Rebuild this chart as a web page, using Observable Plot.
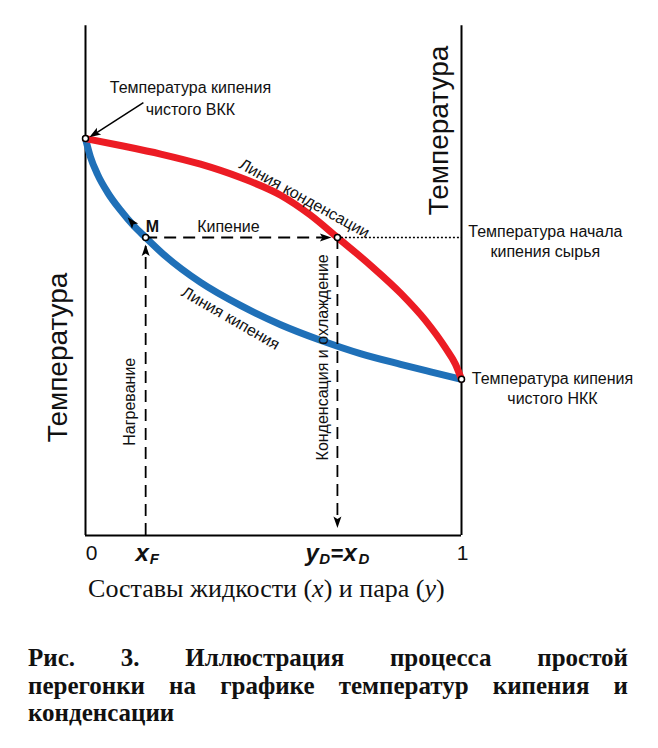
<!DOCTYPE html>
<html><head><meta charset="utf-8">
<script src="https://cdn.jsdelivr.net/npm/d3@7"></script>
<script src="https://cdn.jsdelivr.net/npm/@observablehq/plot@0.6"></script>
<style>
body{margin:0;background:#fff;}
#chart svg{display:block;}
.cap{margin:34px 0 0 28px;width:600px;font:bold 25px/27.5px "Liberation Serif","Times New Roman",serif;color:#111;}
.j{text-align:justify;text-align-last:justify;}
</style></head><body>
<div id="chart"></div>
<div class="cap">
<div class="j">Рис. 3. Иллюстрация процесса простой</div>
<div class="j">перегонки на графике температур кипения и</div>
<div>конденсации</div>
</div>
<script>
// Линия кипения (liquid): состав x -> температура (условные единицы)
const liquidX = [0, 0.013, 0.032, 0.059, 0.093, 0.128, 0.16, 0.213, 0.306, 0.412, 0.519, 0.625, 0.731, 0.838, 0.918, 1];
const liquidT = [74.2, 70.8, 67.5, 64.1, 60.8, 57.9, 55.7, 52.2, 47.3, 43.0, 39.4, 36.5, 34.0, 32.0, 30.6, 29.2];
// Линия конденсации (vapor)
const vaporX = [0, 0.093, 0.2, 0.306, 0.412, 0.519, 0.598, 0.67, 0.758, 0.838, 0.904, 0.957, 0.984, 1];
const vaporT = [74.2, 72.9, 71.3, 69.4, 66.9, 63.6, 59.9, 55.7, 50.5, 45.3, 40.2, 35.1, 32.0, 29.2];

const xF = 0.16, xD = 0.67, tFeed = 55.7, tTop = 95.3;
const keyX = [0, 1, xF, xD];
const keyT = [74.2, 29.2, 55.7, 55.7];

// arrowheads: x, T, rotation
const headX = [0.16, 0.634, 0.67, 0.125, 0.027];
const headT = [53.0, 55.7, 2.8, 58.4, 75.2];
const headR = [0, 90, 180, -40, -122];

const sans = "Liberation Sans, Arial, sans-serif";
const red = "#ec1c24", blue = "#1f70b8";

const arrowSymbol = {
  draw(ctx, size) {
    const r = Math.sqrt(size / Math.PI);
    ctx.moveTo(0, -r * 1.5);
    ctx.lineTo(r * 0.8, r * 0.8);
    ctx.lineTo(0, r * 0.3);
    ctx.lineTo(-r * 0.8, r * 0.8);
    ctx.closePath();
  }
};

const liquid = liquidX.map((x, i) => ({x, t: liquidT[i]}));
const vapor = vaporX.map((x, i) => ({x, t: vaporT[i]}));
const keys = keyX.map((x, i) => ({x, t: keyT[i]}));
const heads = headX.map((x, i) => ({x, t: headT[i], r: headR[i]}));

const L = (x, y, text, opts = {}) =>
  Plot.text([{x, y, text}], {x: "x", y: "y", text: "text", fontFamily: sans, fill: "#111", fontSize: 16, ...opts});

const chart = Plot.plot({
  width: 658, height: 610,
  marginLeft: 85, marginRight: 197, marginTop: 0, marginBottom: 75,
  x: {domain: [0, 1], axis: null},
  y: {domain: [0, 100], axis: null},
  style: {background: "white", overflow: "visible"},
  marks: [
    Plot.ruleX([0, 1], {y1: 0, y2: tTop, stroke: "black", strokeWidth: 2}),
    Plot.ruleY([0], {x1: 0, x2: 1, stroke: "black", strokeWidth: 2}),
    Plot.line(liquid, {x: "x", y: "t", stroke: blue, strokeWidth: 7, curve: "monotone-x"}),
    Plot.line(vapor, {x: "x", y: "t", stroke: red, strokeWidth: 7, curve: "monotone-x"}),
    Plot.ruleX([xF], {y1: 0, y2: 54, stroke: "black", strokeWidth: 1.8, strokeDasharray: "12,7"}),
    Plot.ruleY([tFeed], {x1: xF, x2: 0.64, stroke: "black", strokeWidth: 1.8, strokeDasharray: "12,7"}),
    Plot.ruleY([tFeed], {x1: xD, x2: 1, stroke: "black", strokeWidth: 1.5, strokeDasharray: "2,2"}),
    Plot.ruleX([xD], {y1: tFeed, y2: 3, stroke: "black", strokeWidth: 1.8, strokeDasharray: "12,7"}),
    Plot.link([{x1: 0.154, y1: 80.9, x2: 0.03, y2: 75.3}], {x1: "x1", y1: "y1", x2: "x2", y2: "y2", stroke: "black", strokeWidth: 1.5}),
    Plot.dot(heads, {x: "x", y: "t", rotate: "r", symbol: arrowSymbol, r: 5, fill: "black", stroke: "none"}),
    Plot.dot(keys, {x: "x", y: "t", r: 3, fill: "white", stroke: "black", strokeWidth: 1.5}),

    L(0.279, 81.9, "Температура кипения\nчистого ВКК", {lineHeight: 1.34}),
    L(1.223, 55.1, "Температура начала\nкипения сырья", {lineHeight: 1.25}),
    L(1.242, 27.7, "Температура кипения\nчистого НКК", {lineHeight: 1.25}),
    L(-0.072, 33.3, "Температура", {rotate: -90, fontSize: 28}),
    L(0.939, 75.7, "Температура", {rotate: -90, fontSize: 28}),
    L(0.380, 57.6, "Кипение"),
    L(0.178, 57.6, "M", {fontWeight: "bold"}),
    L(0.582, 63.0, "Линия конденсации", {rotate: 29}),
    L(0.386, 40.6, "Линия кипения", {rotate: 30}),
    L(0.117, 25.0, "Нагревание", {rotate: -90}),
    L(0.630, 33.3, "Конденсация и охлаждение", {rotate: -90}),

    L(0.016, -3.4, "0", {fontSize: 21}),
    L(1.003, -3.4, "1", {fontSize: 21}),
    L(0.133, -3.4, "x", {fontSize: 24, fontWeight: "bold", fontStyle: "italic", textAnchor: "start"}),
    L(0.171, -4.5, "F", {fontSize: 15, fontWeight: "bold", fontStyle: "italic", textAnchor: "start"}),
    L(0.585, -3.4, "y", {fontSize: 24, fontWeight: "bold", fontStyle: "italic", textAnchor: "start"}),
    L(0.622, -4.5, "D", {fontSize: 15, fontWeight: "bold", fontStyle: "italic", textAnchor: "start"}),
    L(0.652, -3.4, "=", {fontSize: 22, fontWeight: "bold", textAnchor: "start"}),
    L(0.686, -3.4, "x", {fontSize: 24, fontWeight: "bold", fontStyle: "italic", textAnchor: "start"}),
    L(0.726, -4.5, "D", {fontSize: 15, fontWeight: "bold", fontStyle: "italic", textAnchor: "start"}),
    L(0.481, -9.9, "Составы жидкости (x) и пара (y)", {fontSize: 26, fontFamily: "Liberation Serif, Times New Roman, serif", className: "xtitle"})
  ]
});
document.getElementById("chart").appendChild(chart);
const tt = chart.querySelector(".xtitle text");
if (tt) tt.innerHTML = 'Составы жидкости (<tspan font-style="italic">x</tspan>) и пара (<tspan font-style="italic">y</tspan>)';
</script>
</body></html>
